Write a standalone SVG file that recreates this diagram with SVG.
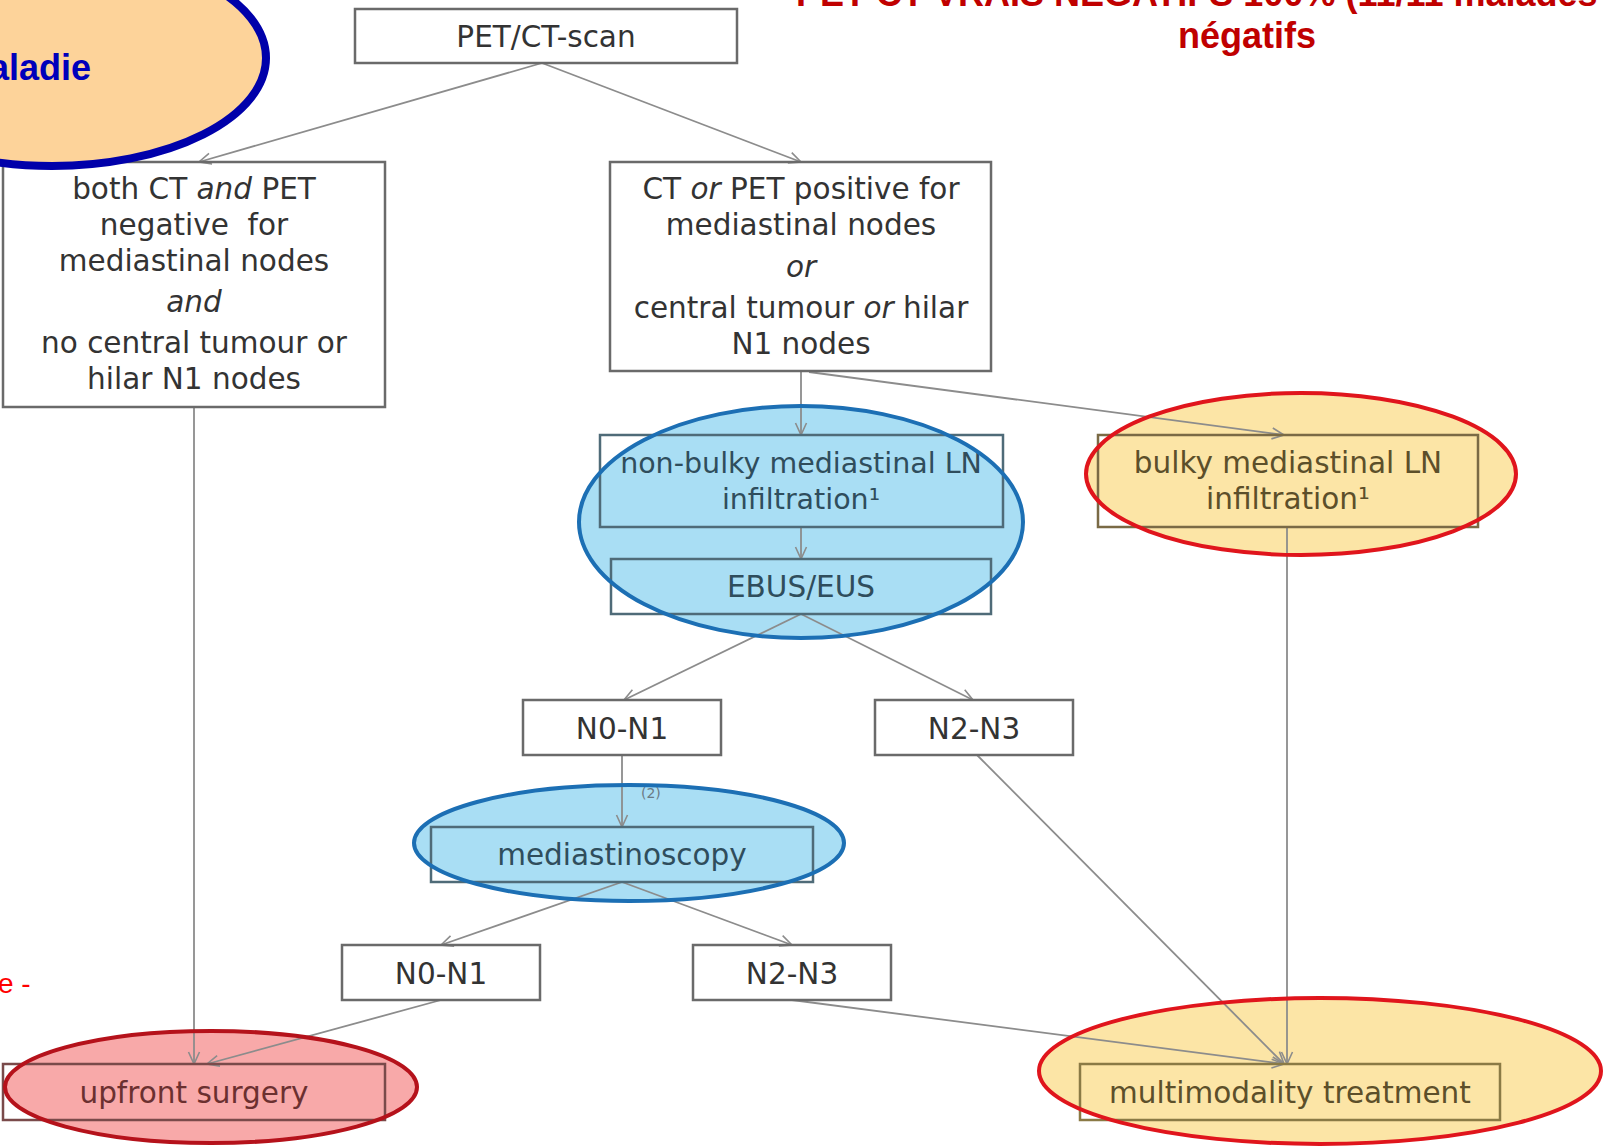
<svg xmlns="http://www.w3.org/2000/svg" width="1604" height="1146" viewBox="0 0 1604 1146">
<style>
.box{fill:none;stroke:#6a6a6a;stroke-width:2.5}
.t{font-family:"DejaVu Sans",Verdana,sans-serif;font-size:29.5px;fill:#333333;text-anchor:middle}
.i{font-style:italic}
.con{fill:none;stroke:#8c8c8c;stroke-width:1.8;marker-end:url(#arr)}
.blueF{fill:#a9def4}
.yelF{fill:#fce5a6}
.pinkF{fill:#f8a9a9}
.blueS{fill:none;stroke:#1c6fb4;stroke-width:4}
.redS{fill:none;stroke:#e0151c;stroke-width:4}
.dredS{fill:none;stroke:#b5121b;stroke-width:4}
</style>
<defs>
<marker id="arr" viewBox="0 0 14 14" refX="13" refY="7" markerWidth="14" markerHeight="14" orient="auto" markerUnits="userSpaceOnUse">
<path d="M1,1.5 L13,7 L1,12.5" fill="none" stroke="#8c8c8c" stroke-width="1.6"/>
</marker>
</defs>
<rect width="1604" height="1146" fill="#ffffff"/>

<g id="highlight-fills">
<ellipse class="blueF" cx="801" cy="522" rx="222" ry="116"/>
<ellipse class="yelF" cx="1301" cy="474" rx="215" ry="81"/>
<ellipse class="blueF" cx="629" cy="843" rx="215" ry="58"/>
<ellipse class="pinkF" cx="211" cy="1087" rx="206" ry="56"/>
<ellipse class="yelF" cx="1320" cy="1071" rx="281" ry="73"/>
</g>

<g id="connectors">
<line class="con" x1="542" y1="63" x2="199" y2="162"/>
<line class="con" x1="542" y1="63" x2="801" y2="162"/>
<line class="con" x1="801" y1="371" x2="801" y2="435"/>
<line class="con" x1="809" y1="372" x2="1284" y2="435"/>
<line class="con" x1="801" y1="527" x2="801" y2="559"/>
<line class="con" x1="801" y1="614" x2="624" y2="700"/>
<line class="con" x1="801" y1="614" x2="973" y2="700"/>
<line class="con" x1="622" y1="755" x2="622" y2="827"/>
<line class="con" x1="977" y1="755" x2="1284" y2="1064"/>
<line class="con" x1="1287" y1="527" x2="1287" y2="1064"/>
<line class="con" x1="622" y1="882" x2="441" y2="945"/>
<line class="con" x1="622" y1="882" x2="792" y2="945"/>
<line class="con" x1="441" y1="1000" x2="207" y2="1064"/>
<line class="con" x1="194" y1="407" x2="194" y2="1064"/>
<line class="con" x1="792" y1="1000" x2="1284" y2="1064"/>
<text x="641" y="798" style="font-family:'DejaVu Sans',sans-serif;font-size:14px;fill:#6a7a85">(2)</text>
</g>

<g id="node-petct">
<rect class="box" x="355" y="9" width="382" height="54"/>
<text class="t" x="546" y="47">PET/CT-scan</text>
</g>

<g id="node-negative">
<rect class="box" x="3" y="162" width="382" height="245"/>
<text class="t" x="194" y="199">both CT <tspan class="i">and</tspan> PET</text>
<text class="t" x="194" y="235" xml:space="preserve">negative  for</text>
<text class="t" x="194" y="271">mediastinal nodes</text>
<text class="t i" x="194" y="312">and</text>
<text class="t" x="194" y="353">no central tumour or</text>
<text class="t" x="194" y="389">hilar N1 nodes</text>
</g>

<g id="node-positive">
<rect class="box" x="610" y="162" width="381" height="209"/>
<text class="t" x="801" y="199">CT <tspan class="i">or</tspan> PET positive for</text>
<text class="t" x="801" y="235">mediastinal nodes</text>
<text class="t i" x="801" y="277">or</text>
<text class="t" x="801" y="318">central tumour <tspan class="i">or</tspan> hilar</text>
<text class="t" x="801" y="354">N1 nodes</text>
</g>

<g id="node-nonbulky">
<rect class="box" x="600" y="435" width="403" height="92" style="stroke:#4f6b78"/>
<text class="t" x="801" y="473" style="fill:#2f4d5c;font-size:28.5px">non-bulky mediastinal LN</text>
<text class="t" x="801" y="509" style="fill:#2f4d5c;font-size:28.5px">infiltration¹</text>
</g>

<g id="node-ebus">
<rect class="box" x="611" y="559" width="380" height="55" style="stroke:#4f6b78"/>
<text class="t" x="801" y="597" style="fill:#2f4d5c">EBUS/EUS</text>
</g>

<g id="node-bulky">
<rect class="box" x="1098" y="435" width="380" height="92" style="stroke:#7a6a45"/>
<text class="t" x="1288" y="473" style="fill:#5c4f2a">bulky mediastinal LN</text>
<text class="t" x="1288" y="509" style="fill:#5c4f2a">infiltration¹</text>
</g>

<g id="node-n0n1-a">
<rect class="box" x="523" y="700" width="198" height="55"/>
<text class="t" x="622" y="739">N0-N1</text>
</g>

<g id="node-n2n3-a">
<rect class="box" x="875" y="700" width="198" height="55"/>
<text class="t" x="974" y="739">N2-N3</text>
</g>

<g id="node-mediastinoscopy">
<rect class="box" x="431" y="827" width="382" height="55" style="stroke:#4f6b78"/>
<text class="t" x="622" y="865" style="fill:#2f4d5c">mediastinoscopy</text>
</g>

<g id="node-n0n1-b">
<rect class="box" x="342" y="945" width="198" height="55"/>
<text class="t" x="441" y="984">N0-N1</text>
</g>

<g id="node-n2n3-b">
<rect class="box" x="693" y="945" width="198" height="55"/>
<text class="t" x="792" y="984">N2-N3</text>
</g>

<g id="node-surgery">
<rect class="box" x="3" y="1064" width="382" height="56" style="stroke:#7a4a4a"/>
<text class="t" x="194" y="1103" style="fill:#6b3030">upfront surgery</text>
</g>

<g id="node-multimodality">
<rect class="box" x="1080" y="1064" width="420" height="56" style="stroke:#8a7a45"/>
<text class="t" x="1290" y="1103" style="fill:#5c4f2a">multimodality treatment</text>
</g>

<g id="highlight-strokes">
<ellipse class="blueS" cx="801" cy="522" rx="222" ry="116"/>
<ellipse class="redS" cx="1301" cy="474" rx="215" ry="81"/>
<ellipse class="blueS" cx="629" cy="843" rx="215" ry="58"/>
<ellipse class="dredS" cx="211" cy="1087" rx="206" ry="56"/>
<ellipse class="redS" cx="1320" cy="1071" rx="281" ry="73"/>
</g>

<g id="callout-maladie">
<ellipse cx="52" cy="58" rx="214" ry="108" fill="#fdd39a" stroke="#0000aa" stroke-width="8"/>
<text x="91" y="80" text-anchor="end" style="font-family:'Liberation Sans',Arial,sans-serif;font-weight:bold;font-size:36px;fill:#0000bb">Maladie</text>
</g>

<g id="red-notes">
<text x="796" y="6" style="font-family:'Liberation Sans',Arial,sans-serif;font-weight:bold;font-size:36px;fill:#c00000">PET-CT VRAIS NEGATIFS 100% (11/11 malades</text>
<text x="1247" y="48" text-anchor="middle" style="font-family:'Liberation Sans',Arial,sans-serif;font-weight:bold;font-size:36px;fill:#c00000">négatifs</text>
<text x="-2" y="993" style="font-family:'Liberation Sans',Arial,sans-serif;font-size:28px;fill:#ff0000">e -</text>
</g>
</svg>
